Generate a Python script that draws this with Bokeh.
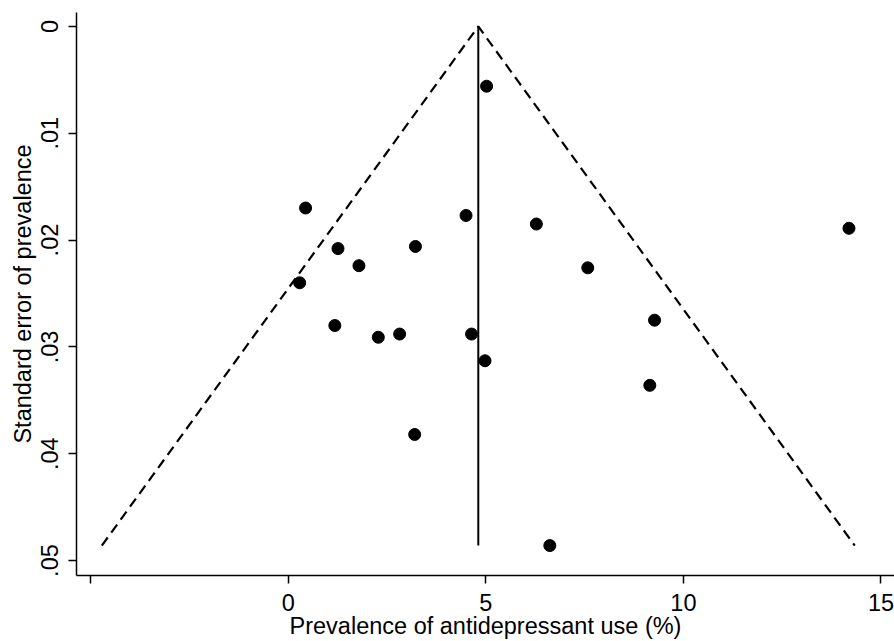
from bokeh.plotting import figure
from bokeh.models import Range1d, FixedTicker, ColumnDataSource
from bokeh.embed import file_html
from bokeh.resources import INLINE

# Study prevalence (%) and standard error of prevalence (proportion)
prevalence = [5.02, 0.44, 4.50, 6.28, 14.19, 1.26, 3.22, 1.79, 7.58, 0.29,
              1.18, 9.27, 2.28, 2.82, 4.64, 4.98, 9.15, 3.20, 6.62]
std_error = [0.0056, 0.0170, 0.0177, 0.0185, 0.0189, 0.0208, 0.0206, 0.0224, 0.0226, 0.0240,
             0.0280, 0.0275, 0.0291, 0.0288, 0.0288, 0.0313, 0.0336, 0.0382, 0.0486]

pooled = 4.81          # pooled prevalence (%)
z = 1.96               # pseudo 95% limits
se_max = max(std_error)

x_ticks = [-5, 0, 5, 10, 15]
x_tick_labels = {-5: "", 0: "0", 5: "5", 10: "10", 15: "15"}
y_ticks = [0, 0.01, 0.02, 0.03, 0.04, 0.05]
y_tick_labels = {0: "0", 0.01: ".01", 0.02: ".02", 0.03: ".03", 0.04: ".04", 0.05: ".05"}

FONT = "Liberation Sans"
FS = "23.5px"

p = figure(width=894, height=641, output_backend="svg", toolbar_location=None,
           x_range=Range1d(-5.357, 15.342), y_range=Range1d(0.0514, -0.0013),
           min_border_left=76, min_border_right=0, min_border_top=12, min_border_bottom=64)
p.outline_line_color = None
p.grid.visible = False
p.background_fill_color = "white"
p.border_fill_color = "white"

# funnel limits
left_x = pooled - z * se_max * 100
right_x = pooled + z * se_max * 100
p.line([left_x, pooled, right_x], [se_max, 0, se_max], line_color="black",
       line_width=2.2, line_dash="10 6")
p.line([pooled, pooled], [0, se_max], line_color="black", line_width=2)

src = ColumnDataSource(dict(x=prevalence, y=std_error))
p.scatter("x", "y", source=src, size=12, fill_color="black", line_color="black")

for ax in (p.xaxis[0], p.yaxis[0]):
    ax.axis_line_color = "black"
    ax.axis_line_width = 1.5
    ax.major_tick_line_color = "black"
    ax.major_tick_line_width = 1.5
    ax.major_tick_in = 0
    ax.major_tick_out = 8
    ax.minor_tick_line_color = None
    ax.major_label_text_font = FONT
    ax.major_label_text_font_size = FS
    ax.major_label_text_color = "black"
    ax.axis_label_text_font = FONT
    ax.axis_label_text_font_size = FS
    ax.axis_label_text_font_style = "normal"
    ax.axis_label_text_color = "black"

p.xaxis.ticker = FixedTicker(ticks=x_ticks)
p.xaxis.major_label_overrides = x_tick_labels
p.xaxis.axis_label = "Prevalence of antidepressant use (%)"
p.xaxis.major_label_standoff = 10
p.xaxis.axis_label_standoff = -1

p.yaxis.ticker = FixedTicker(ticks=y_ticks)
p.yaxis.major_label_overrides = y_tick_labels
p.yaxis.major_label_orientation = "vertical"
p.yaxis.axis_label = "Standard error of prevalence"
p.yaxis.major_label_standoff = 10
p.yaxis.axis_label_standoff = 3

open("out.html", "w").write(file_html(p, INLINE))
